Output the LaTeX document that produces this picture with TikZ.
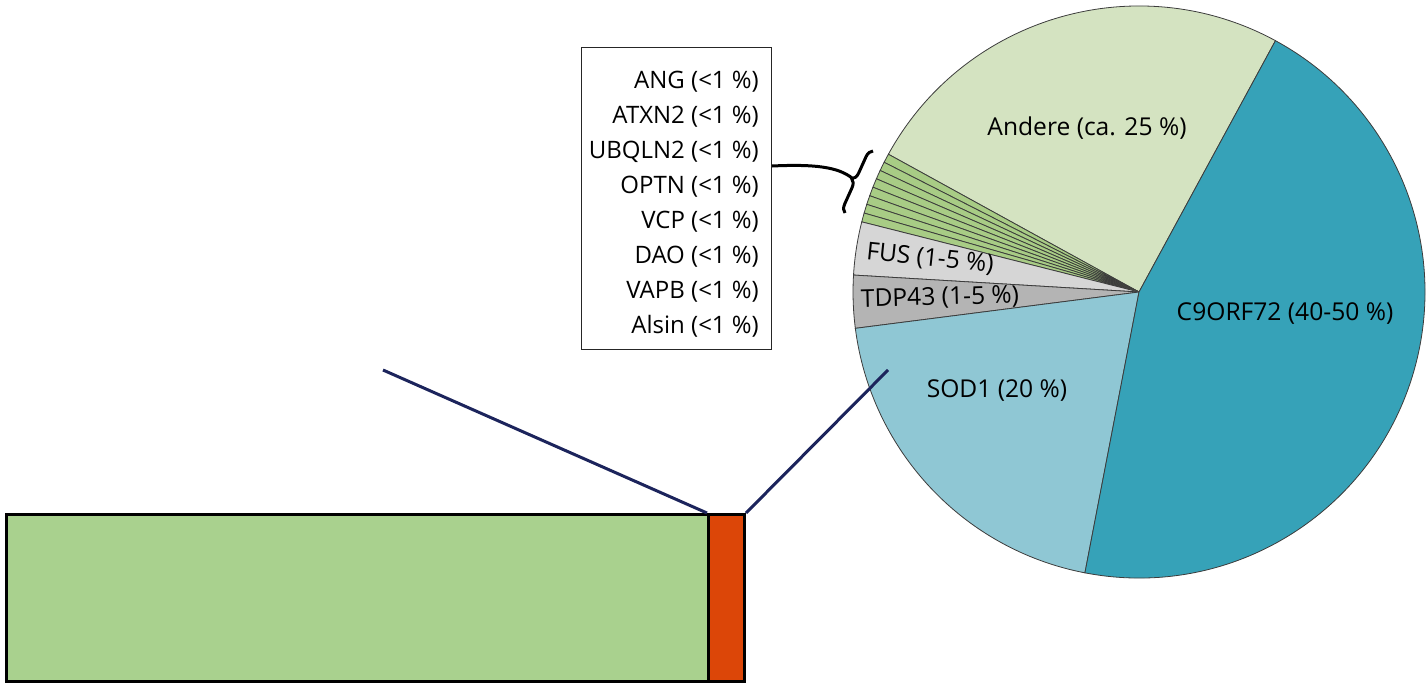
\documentclass[tikz,border=0pt]{standalone}
\usepackage{fontspec}
\setmainfont{Open Sans}
\usetikzlibrary{decorations.pathreplacing,calc}
\definecolor{andere}{RGB}{212,227,193}
\definecolor{cnine}{RGB}{54,162,184}
\definecolor{sod}{RGB}{143,199,212}
\definecolor{tdp}{RGB}{180,180,180}
\definecolor{fus}{RGB}{214,214,214}
\definecolor{smallgreen}{RGB}{168,204,133}
\definecolor{bargreen}{RGB}{169,209,142}
\definecolor{barorange}{RGB}{220,70,8}
\definecolor{navy}{RGB}{28,36,92}
\definecolor{slicegray}{RGB}{60,60,60}
\newcommand\pieslice[3]{\filldraw[sliceline, fill=#3] (pc) -- ++(-#1:286) arc[start angle=-#1, end angle=-#2, radius=286] -- cycle;}
\begin{document}
\begin{tikzpicture}[x=1pt,y=-1pt,
  font=\fontsize{24}{29}\selectfont,
  sliceline/.style={draw=slicegray, line width=0.8pt},
  pielabel/.style={font=\fontsize{24.6}{29}\selectfont},
  barpart/.style={draw=black, line width=3pt, inner sep=0pt, anchor=north west, minimum height=167pt},
  zoomline/.style={draw=navy, line width=3pt},
  legtext/.style={anchor=east, inner sep=0pt},
  conn/.style={draw=black, line width=3pt}]
\useasboundingbox (0,0) rectangle (1426,683);

% pie
\coordinate (pc) at (1139,292);
\pieslice{61.5}{151.2}{andere}
\foreach \i in {0,...,7}{
  \pgfmathsetmacro\sa{151.2+\i*1.825}
  \pgfmathsetmacro\sb{151.2+(\i+1)*1.825}
  \pieslice{\sa}{\sb}{smallgreen}
}
\pieslice{165.8}{176.6}{fus}
\pieslice{176.6}{187.3}{tdp}
\pieslice{187.3}{259.1}{sod}
\pieslice{259.1}{421.5}{cnine}

\node[pielabel] (lAndere) at (1087,128) {Andere (ca. 25 \%)};
\node[pielabel] (lC9) at (1285,314) {C9ORF72 (40-50 \%)};
\node[pielabel] (lSOD) at (997,391) {SOD1 (20 \%)};
\node[pielabel, rotate=-6] (lFUS) at (930,259) {FUS (1-5 \%)};
\node[pielabel, rotate=1.5] (lTDP) at (940,298) {TDP43 (1-5 \%)};

% legend
\node[draw=black!85, line width=1pt, minimum width=190pt, minimum height=302pt, anchor=north west, inner sep=0pt] (legend) at (581,47) {};
\node[legtext] (g1) at (759,81.5) {ANG (<1 \%)};
\node[legtext] (g2) at (759,116.5) {ATXN2 (<1 \%)};
\node[legtext] (g3) at (759,151.5) {UBQLN2 (<1 \%)};
\node[legtext] (g4) at (759,186.5) {OPTN (<1 \%)};
\node[legtext] (g5) at (759,221.5) {VCP (<1 \%)};
\node[legtext] (g6) at (759,256.5) {DAO (<1 \%)};
\node[legtext] (g7) at (759,291.5) {VAPB (<1 \%)};
\node[legtext] (g8) at (759,326.5) {Alsin (<1 \%)};

% brace and connector
\coordinate (bbot) at (845,213);
\coordinate (btop) at (873,151);
\coordinate (btip) at (852,178);
\coordinate (lstart) at ($(legend.north east)+(0,119)$);
\draw[conn, decorate, decoration={brace, amplitude=8pt}] (bbot) -- (btop);
\draw[conn] (lstart) .. controls (815,164) and (838,167) .. (btip);

% zoom lines
\coordinate (z1) at (383,370);
\coordinate (z2) at (888,370);
\node[barpart, fill=bargreen, minimum width=702pt] (bar) at (5,513) {};
\node[barpart, fill=barorange, minimum width=36pt] (barred) at (707,513) {};
\draw[zoomline] (z1) -- (barred.north west);
\draw[zoomline] (barred.north east) -- (z2);
\end{tikzpicture}
\end{document}
